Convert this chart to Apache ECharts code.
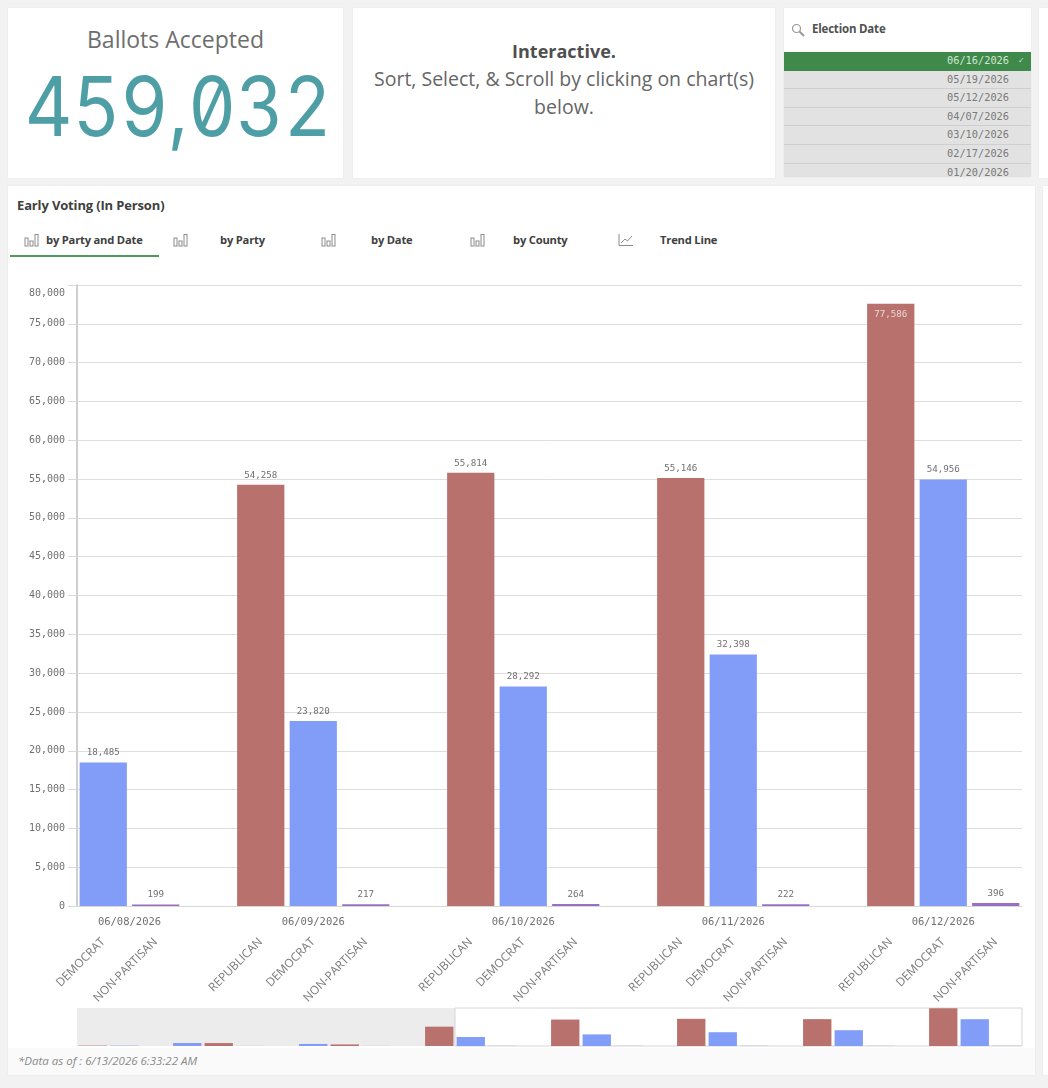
<!DOCTYPE html>
<html><head><meta charset="utf-8">
<script src="https://cdn.jsdelivr.net/npm/echarts@6/dist/echarts.min.js"></script>
<style>
html,body{margin:0;padding:0;background:#f2f2f2;width:1048px;height:1088px;overflow:hidden;font-family:"Open Sans",sans-serif}
.card{position:absolute;background:#fff;box-shadow:0 0 1px #ddd}
.abs{position:absolute;white-space:nowrap}
#chart{position:absolute;left:0;top:0;width:1048px;height:1088px;z-index:2}
.row{position:absolute;left:0;width:247px;background:#e2e2e2;border-bottom:1px solid #cfcfcf;text-align:right;font:10.3px/17px "DejaVu Sans Mono",monospace;color:#7a7a7a}
.row span{position:absolute;right:22px}
.tab{position:absolute;top:232px;font-size:11.2px;font-weight:700;color:#404040;line-height:16px;white-space:nowrap;letter-spacing:-.2px}
svg{position:absolute}
</style></head><body>
<div class="card" style="left:8px;top:8px;width:335px;height:170px"></div>
<div class="card" style="left:353px;top:8px;width:422px;height:170px"></div>
<div class="card" style="left:784px;top:8px;width:247px;height:169px;overflow:hidden" id="list">
  <svg style="left:7px;top:15px" width="14" height="14" viewBox="0 0 14 14"><circle cx="5.5" cy="5.5" r="4" fill="none" stroke="#999" stroke-width="1.2"/><line x1="8.5" y1="8.5" x2="13" y2="13" stroke="#999" stroke-width="2"/></svg>
  <div class="abs" style="left:28px;top:13px;font-size:11.5px;font-weight:700;color:#505050;line-height:16px;letter-spacing:-.2px">Election Date</div>
</div>
<div class="card" style="left:1039px;top:8px;width:9px;height:170px"></div>
<div class="card" style="left:8px;top:186px;width:1027px;height:889px"></div>
<div class="card" style="left:1043px;top:186px;width:5px;height:889px"></div>
<div class="abs" style="left:8px;top:1048px;width:1027px;height:27px;background:#fafafa"></div>

<div class="abs" style="left:8px;top:24px;width:335px;text-align:center;font-size:23px;line-height:30px;color:#6e6e6e">Ballots Accepted</div>
<div class="abs" style="left:8px;top:57px;width:335px;text-align:center;font-family:Inter,sans-serif;font-feature-settings:'zero','tnum';font-weight:400;font-size:82px;line-height:100px;color:#4e9ea6;transform:scaleX(.9)">459,032</div>
<div class="abs" style="left:353px;top:37px;width:422px;text-align:center;font-size:18px;line-height:28px;font-weight:700;color:#4f4f4f">Interactive.</div>
<div class="abs" style="left:353px;top:65px;width:422px;text-align:center;font-size:19.5px;line-height:28px;color:#666;white-space:normal">Sort, Select, &amp; Scroll by clicking on chart(s)<br>below.</div>

<div class="abs" style="left:17px;top:196px;font-size:13px;font-weight:700;color:#404040;line-height:18px;letter-spacing:-.15px">Early Voting (In Person)</div>
<div id="tabs"></div>
<div class="abs" style="left:10px;top:255px;width:149px;height:2px;background:#4c9a5c"></div>
<div class="abs" style="left:18px;top:1053px;font-size:11.5px;line-height:16px;font-style:italic;color:#8a8a8a">*Data as of : 6/13/2026 6:33:22 AM</div>
<div id="chart"></div>
<script>
// ---- data ----
const listDates = ['06/16/2026','05/19/2026','05/12/2026','04/07/2026','03/10/2026','02/17/2026','01/20/2026'];
const tabs = [['by Party and Date',46,24,'bar'],['by Party',220,173,'bar'],['by Date',371,321,'bar'],['by County',513,470,'bar'],['Trend Line',660,618,'line']];

const slotParty = ['REPUBLICAN','DEMOCRAT','', 'DEMOCRAT','REPUBLICAN','NON-PARTISAN','', 'DEMOCRAT','REPUBLICAN','NON-PARTISAN','',
  'REPUBLICAN','DEMOCRAT','NON-PARTISAN','', 'REPUBLICAN','DEMOCRAT','NON-PARTISAN','', 'REPUBLICAN','DEMOCRAT','NON-PARTISAN','',
  'REPUBLICAN','DEMOCRAT','NON-PARTISAN','', 'REPUBLICAN','DEMOCRAT','NON-PARTISAN'];
const slotDate = ['','','','','','','','','','','',
  '06/08/2026','06/08/2026','06/08/2026','', '06/09/2026','06/09/2026','06/09/2026','', '06/10/2026','06/10/2026','06/10/2026','',
  '06/11/2026','06/11/2026','06/11/2026','', '06/12/2026','06/12/2026','06/12/2026'];
const republican = [800,null,null,null,6000,null,null,null,3200,null,null,
  39700,null,null,null, 54258,null,null,null, 55814,null,null,null, 55146,null,null,null, 77586,null,null];
const democrat = [null,700,null,6200,null,null,null,4200,null,null,null,
  null,18485,null,null, null,23820,null,null, null,28292,null,null, null,32398,null,null, null,54956,null];
const nonPartisan = [null,null,null,null,null,150,null,null,null,130,null,
  null,null,199,null, null,null,217,null, null,null,264,null, null,null,222,null, null,null,396];
const yTicks = {min:0,max:80000,interval:5000};
const firstVisibleSlot = 12;
const lastVisibleSlot = 29;
// ------------------------------------

const list = document.getElementById('list');
listDates.forEach((d,i)=>{
  const r = document.createElement('div');
  r.className='row';
  const top = Math.round(44+i*18.6), next = Math.round(44+(i+1)*18.6);
  r.style.top=top+'px';
  r.style.height=(next-top-1)+'px';
  r.innerHTML='<span>'+d+'</span>';
  if(i===0){r.style.background='#3f8a4b';r.style.color='#cfe6d2';r.style.borderBottom='1px solid #3f8a4b';
    r.innerHTML+='<span style="right:7px;font-size:9px">\u2713</span>';}
  list.appendChild(r);
});
const tabBox = document.getElementById('tabs');
tabs.forEach(t=>{
  const d=document.createElement('div');d.className='tab';d.style.left=t[1]+'px';d.textContent=t[0];tabBox.appendChild(d);
  const ic=document.createElementNS('http://www.w3.org/2000/svg','svg');
  ic.setAttribute('width','16');ic.setAttribute('height','14');ic.style.left=t[2]+'px';ic.style.top='233px';
  ic.innerHTML = t[3]==='bar'
    ? '<g fill="none" stroke="#8c8c8c" stroke-width="1"><rect x="1" y="5" width="3" height="8"/><rect x="6" y="8" width="3" height="5"/><rect x="11" y="1.500" width="3" height="11.500"/></g>'
    : '<g fill="none" stroke="#8c8c8c" stroke-width="1"><path d="M1 1V12.500H15"/><path d="M3 10L7 6L9.500 8L14 3"/></g>';
  document.body.appendChild(ic);
});

const fmt = v => String(v).replace(/\B(?=(\d{3})+$)/g,',');
const mono = '"DejaVu Sans Mono", monospace';
const COLORS = {rep:'#b9716d',dem:'#819df7',np:'#9a6fc2'};

// date labels sit at the centre of the visible bars of each date
const visCount = lastVisibleSlot-firstVisibleSlot+1;
const dateAxis = new Array(visCount*2+1).fill('');
[...new Set(slotDate.filter(Boolean))].forEach(d=>{
  const idx = slotDate.map((x,i)=>x===d&&i>=firstVisibleSlot?i-firstVisibleSlot:-1).filter(i=>i>=0);
  const mid = (idx[0]+idx[idx.length-1]+1); // in half-slots
  dateAxis[mid]=d;
});

const labelBase = {show:true,position:'top',distance:5,fontFamily:mono,fontSize:9.2,color:'#707070',formatter:p=>fmt(p.value)};
const mainItems = (arr,flagMax)=>arr.map(v=> (flagMax && v===Math.max(...arr.filter(x=>x!=null)))
  ? {value:v,label:{position:'insideTop',color:'#e8d5d3',distance:6}} : v);

const mainSeries = [
  {name:'REPUBLICAN',data:mainItems(republican,true),color:COLORS.rep},
  {name:'DEMOCRAT',data:democrat,color:COLORS.dem},
  {name:'NON-PARTISAN',data:nonPartisan,color:COLORS.np}
].map(s=>({type:'bar',name:s.name,stack:'main',data:s.data,barWidth:'90%',xAxisIndex:0,yAxisIndex:0,
  itemStyle:{color:s.color},label:labelBase,silent:true}));

const miniSeries = [
  {name:'r',data:republican,color:COLORS.rep},
  {name:'d',data:democrat,color:COLORS.dem},
  {name:'n',data:nonPartisan,color:COLORS.np}
].map(s=>({type:'bar',stack:'mini',data:s.data,barWidth:'90%',xAxisIndex:2,yAxisIndex:1,z:5,
  itemStyle:{color:s.color},silent:true}));

const chart = echarts.init(document.getElementById('chart'),null,{renderer:'canvas'});
chart.setOption({
  animation:false,
  backgroundColor:'transparent',
  grid:[
    {left:77,right:26,top:285,height:621,containLabel:false},
    {left:77,right:26,top:1008,height:38,containLabel:false}
  ],
  xAxis:[
    {type:'category',gridIndex:0,position:'bottom',data:slotParty,axisLine:{lineStyle:{color:'#d8d8d8'}},axisTick:{show:false},
     axisLabel:{interval:0,rotate:45,margin:34,fontFamily:'"Open Sans",sans-serif',fontSize:11.8,color:'#7a7a7a',hideOverlap:false}},
    {type:'category',gridIndex:0,position:'bottom',boundaryGap:false,data:dateAxis,axisLine:{show:false},axisTick:{show:false},
     axisLabel:{interval:0,margin:11,fontFamily:mono,fontSize:10.5,color:'#707070',hideOverlap:false}},
    {type:'category',gridIndex:1,data:slotParty,show:false},
    {type:'value',gridIndex:1,min:0,max:slotParty.length,show:false}
  ],
  yAxis:[
    {type:'value',gridIndex:0,min:yTicks.min,max:yTicks.max,interval:yTicks.interval,
     axisLine:{show:true,lineStyle:{color:'#cfcfcf',width:2}},axisTick:{show:true,length:9,lineStyle:{color:'#d8d8d8'}},
     splitLine:{lineStyle:{color:'#dedede'}},
     axisLabel:{margin:12,fontFamily:mono,fontSize:10,color:'#707070',formatter:fmt,verticalAlignMaxLabel:'top',padding:[3,0,0,0]}},
    {type:'value',gridIndex:1,min:0,max:78000,show:false}
  ],
  dataZoom:[{type:'inside',xAxisIndex:0,startValue:firstVisibleSlot,endValue:lastVisibleSlot,filterMode:'filter',disabled:true}],
  series:[...mainSeries,...miniSeries,
    {type:'line',data:[],xAxisIndex:3,yAxisIndex:1,silent:true,z:1,
     markArea:{silent:true,data:[
       [{xAxis:0,yAxis:0,itemStyle:{color:'#ececec'}},{xAxis:firstVisibleSlot,yAxis:78000}],
       [{xAxis:firstVisibleSlot,yAxis:0,itemStyle:{color:'rgba(255,255,255,0)',borderColor:'#d6d6d6',borderWidth:1}},{xAxis:slotParty.length,yAxis:78000}]
     ]}}
  ]
});
</script>
</body></html>
